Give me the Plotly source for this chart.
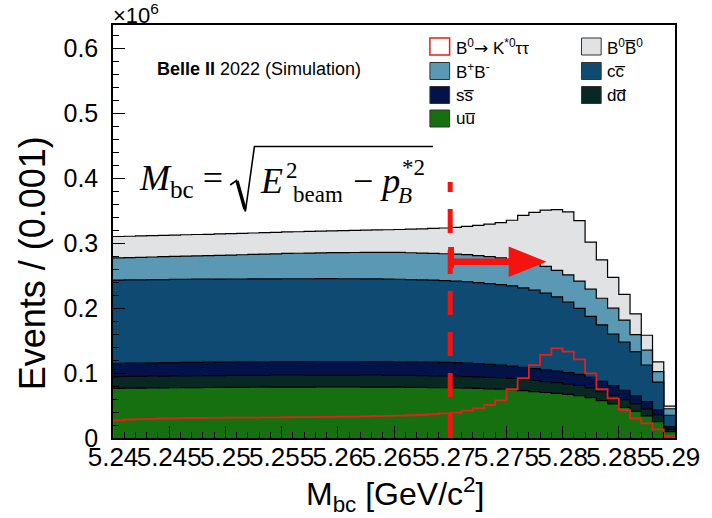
import numpy as np
import plotly.graph_objects as go

# ---- binning: M_bc from 5.24 to 5.29 GeV/c^2 in 1 MeV/c^2 bins ----
MBC_MIN = 5.24
BIN_WIDTH = 0.001
N_BINS = 50
Y_SCALE = 1e6          # y axis is shown in units of 10^6 events
CUT = 5.27             # signal-region cut on M_bc

# ---- events per bin for each background component (stack order: bottom -> top) ----
uu = [76400, 76600, 76800, 76900, 77100, 77300, 77400, 77600, 77700, 77800,
      77900, 78000, 78100, 78200, 78300, 78300, 78400, 78400, 78500, 78500,
      78500, 78500, 78400, 78400, 78300, 78200, 78000, 77800, 77600, 77300,
      77000, 76600, 76200, 75700, 75100, 74400, 73000, 71500, 70000, 68800,
      67200, 65000, 62000, 57500, 52500, 47000, 41000, 34000, 25000, 9700]
dd = [18100, 18100, 18100, 18200, 18200, 18200, 18300, 18200, 18300, 18300,
      18300, 18300, 18300, 18300, 18300, 18400, 18300, 18400, 18300, 18300,
      18300, 18300, 18300, 18200, 18200, 18200, 18200, 18200, 18100, 18100,
      18000, 17900, 17800, 17700, 17600, 17400, 17200, 17000, 16800, 16500,
      16200, 15800, 15000, 13800, 13000, 12000, 11000, 10600, 10000, 3700]
ss = [20500, 20500, 20500, 20600, 20600, 20600, 20600, 20700, 20700, 20700,
      20700, 20700, 20800, 20800, 20800, 20800, 20800, 20800, 20900, 20900,
      20900, 20900, 20900, 20900, 20900, 20800, 20800, 20900, 21000, 20900,
      21000, 20600, 20300, 19900, 19500, 19000, 18600, 18200, 17900, 17600,
      17300, 17000, 16500, 15800, 15200, 14500, 13000, 11500, 8500, 4000]
cc = [128000, 128000, 127900, 127900, 127900, 127800, 127800, 127800, 127700, 127700,
      127700, 127600, 127600, 127600, 127500, 127500, 127500, 127400, 127400, 127400,
      127300, 127300, 127200, 127200, 127100, 127000, 126800, 126500, 126200, 125900,
      125500, 125400, 124700, 124200, 123800, 123200, 122200, 120800, 118300, 114100,
      108300, 101700, 93500, 86900, 79000, 74000, 68000, 56000, 42500, 17600]
bpbm = [34000, 34300, 34700, 34900, 35200, 35600, 35800, 36000, 36300, 36600,
        36900, 37300, 37700, 38100, 38500, 38900, 39200, 39500, 39800, 40000,
        40200, 40400, 40700, 40900, 41100, 41300, 41200, 41100, 41100, 41300,
        41500, 41500, 41500, 41500, 41000, 41000, 41500, 41500, 41000, 41000,
        42000, 42000, 42000, 41000, 40000, 34000, 26000, 23000, 16000, 10000]
b0b0 = [33000, 32900, 32900, 32700, 32800, 32600, 32800, 32800, 32700, 32900,
        32800, 33000, 32900, 33000, 33000, 33100, 33100, 33300, 33400, 33600,
        33900, 34000, 34300, 34500, 34800, 35300, 36300, 37300, 38400, 39600,
        41000, 43500, 46700, 50000, 54200, 60000, 70000, 78000, 86500, 93200,
        97000, 93000, 72500, 59000, 47300, 39500, 32000, 23000, 15000, 4000]

# ---- signal B0 -> K*0 tau tau (scaled), drawn as an outline ----
signal = [27000, 28500, 29000, 29500, 30000, 30200, 30500, 30700, 31000, 31000,
          31200, 31300, 31500, 31600, 31800, 31900, 32000, 32200, 32400, 32600,
          32800, 33000, 33300, 33600, 34000, 34500, 35000, 35800, 36600, 37800,
          39000, 42000, 45700, 50800, 58000, 75000, 92000, 112000, 128000, 138000,
          133000, 121000, 99500, 75000, 61000, 43000, 30000, 22600, 13400, 3000]

# x-axis tick labels every 5 MeV/c^2
x_ticks = [5.24, 5.245, 5.25, 5.255, 5.26, 5.265, 5.27, 5.275, 5.28, 5.285, 5.29]
x_tick_labels = ["5.24", "5.245", "5.25", "5.255", "5.26", "5.265",
                 "5.27", "5.275", "5.28", "5.285", "5.29"]

C_UU = "#17700f"
C_DD = "#082824"
C_SS = "#03134a"
C_CC = "#0e4a72"
C_BPBM = "#5a98b4"
C_B0B0 = "#e1e2e4"
C_SIG = "#e3201b"
C_CUT = "#f5120f"

layers = [
    ("u\u016b", uu, C_UU),
    ("dd\u0305", dd, C_DD),
    ("ss\u0305", ss, C_SS),
    ("cc\u0305", cc, C_CC),
    ("B+B-", bpbm, C_BPBM),
    ("B0B0bar", b0b0, C_B0B0),
]

edges = MBC_MIN + BIN_WIDTH * np.arange(N_BINS + 1)

fig = go.Figure()

# stacked step histograms, filled between consecutive cumulative outlines
cum = np.zeros(N_BINS)
for i, (name, vals, col) in enumerate(layers):
    cum = cum + np.asarray(vals, dtype=float)
    top = cum / Y_SCALE
    fig.add_trace(go.Scatter(
        x=edges, y=np.append(top, top[-1]),
        mode="lines", line=dict(shape="hv", color="black", width=1.2),
        fill="tozeroy" if i == 0 else "tonexty", fillcolor=col,
        name=name, showlegend=False, hoverinfo="skip"))

# signal outline (closed down to zero at both ends)
sig = np.asarray(signal, dtype=float) / Y_SCALE
sx = np.concatenate([[edges[0]], edges, [edges[-1]]])
sy = np.concatenate([[0.0], sig, [sig[-1], 0.0]])
fig.add_trace(go.Scatter(
    x=sx, y=sy, mode="lines", line=dict(shape="hv", color=C_SIG, width=1.8),
    name="signal", showlegend=False, hoverinfo="skip"))

# ---- pixel helpers for decorations placed on the page ----
PL, PR, PT, PB = 113, 684, 25, 438
def px(x):
    return (x - PL) / (PR - PL)
def py(y):
    return (PB - y) / (PB - PT)

Y_TOP = (PB - PT) / 650.0   # axis maximum in units of 10^6

shapes = []
# dashed cut line at M_bc = 5.27
shapes.append(dict(type="line", xref="x", yref="y", x0=CUT, x1=CUT, y0=0, y1=0.394,
                   line=dict(color=C_CUT, width=5, dash="24px,17px")))
# arrow marking the signal region M_bc > 5.27
shapes.append(dict(type="rect", xref="paper", yref="paper",
                   x0=px(453.5), x1=px(459.5), y0=py(268), y1=py(247),
                   fillcolor=C_CUT, line=dict(width=0)))
shapes.append(dict(type="rect", xref="paper", yref="paper",
                   x0=px(459), x1=px(520), y0=py(265), y1=py(258.4),
                   fillcolor=C_CUT, line=dict(width=0)))
shapes.append(dict(type="path", xref="paper", yref="paper",
                   path="M {:.5f},{:.5f} L {:.5f},{:.5f} L {:.5f},{:.5f} Z".format(
                       px(515), py(246.5), px(553.5), py(261.7), px(515), py(277)),
                   fillcolor=C_CUT, line=dict(width=0)))

# square-root sign: thin hook, heavy down-stroke, thin up-stroke and vinculum
def pts(seq):
    return " L ".join("{:.5f},{:.5f}".format(px(a), py(b)) for a, b in seq)
shapes.append(dict(type="path", xref="paper", yref="paper",
                   path="M " + pts([(232, 185), (238.5, 180.5), (247.5, 211.5),
                                    (256.7, 146.5), (438, 146.5)]),
                   line=dict(color="black", width=1.6)))
shapes.append(dict(type="line", xref="paper", yref="paper",
                   x0=px(239), y0=py(181), x1=px(247), y1=py(209),
                   line=dict(color="black", width=3.4)))

annotations = []
def note(text, x, y, size, family="Liberation Sans", xanchor="left", yanchor="middle", **kw):
    annotations.append(dict(text=text, x=px(x), y=py(y), xref="paper", yref="paper",
                            xanchor=xanchor, yanchor=yanchor, showarrow=False,
                            font=dict(family=family, size=size, color="black"), **kw))

SERIF = "Liberation Serif"
# M_bc = sqrt(E_beam^2 - p_B^*2)
note("<i>M</i><sub>bc</sub> = ", 137, 181, 36, SERIF)
note("<i>E</i>", 260, 181, 36, SERIF)
note("2", 287, 170, 23, SERIF)
note("beam", 294, 194, 23, SERIF)
note("\u2212 <i>p</i>", 355, 181, 36, SERIF)
note("<i>B</i>", 401, 195, 23, SERIF)
note("*2", 405, 167, 23, SERIF)

note("<b>Belle II</b> 2022 (Simulation)", 156, 69, 18)
note("\u00d710<sup>6</sup>", 111, 14, 22)

# axis titles
note("Events / (0.001)", 31, 263, 36, xanchor="center", textangle=-90)
note("M<sub>bc</sub> [GeV/c<sup>2</sup>]", 400, 494, 32, xanchor="center")

# legend (two columns)
legend_entries = [
    ("B<sup>0</sup><span style='font-family:DejaVu Sans'>\u2192</span> K<sup>*0</sup>\u03c4\u03c4", None, 0, 0),
    ("B<sup>0</sup>B\u0305<sup>0</sup>", C_B0B0, 1, 0),
    ("B<sup>+</sup>B<sup>-</sup>", C_BPBM, 0, 1),
    ("cc\u0305", C_CC, 1, 1),
    ("ss\u0305", C_SS, 0, 2),
    ("dd\u0305", C_DD, 1, 2),
    ("uu\u0305", C_UU, 0, 3),
]
COL_X = [435, 589]
ROW_Y = [46.5, 71, 95, 118.5]
for text, col, c, r in legend_entries:
    x0 = COL_X[c]
    yc = ROW_Y[r]
    if col is None:
        shapes.append(dict(type="rect", xref="paper", yref="paper",
                           x0=px(x0), x1=px(x0 + 20), y0=py(yc + 8.5), y1=py(yc - 8.5),
                           fillcolor="white", line=dict(color=C_SIG, width=1.5)))
    else:
        shapes.append(dict(type="rect", xref="paper", yref="paper",
                           x0=px(x0), x1=px(x0 + 20), y0=py(yc + 8.5), y1=py(yc - 8.5),
                           fillcolor=col, line=dict(color="#333333", width=1)))
    note(text, x0 + 24, yc, 17)

fig.update_layout(
    width=712, height=518,
    margin=dict(l=PL, r=712 - PR, t=PT, b=518 - PB),
    paper_bgcolor="white", plot_bgcolor="white",
    showlegend=False,
    shapes=shapes, annotations=annotations,
    font=dict(family="Liberation Sans", color="black"),
)
fig.update_xaxes(
    range=[MBC_MIN, MBC_MIN + N_BINS * BIN_WIDTH],
    tickmode="array", tickvals=x_ticks, ticktext=x_tick_labels, tickangle=0,
    ticks="inside", ticklen=12, tickcolor="black", tickwidth=1,
    minor=dict(tick0=MBC_MIN, dtick=0.001, ticks="inside", ticklen=6, tickcolor="black"),
    showline=True, mirror=True, linecolor="black", linewidth=1.5,
    showgrid=False, zeroline=False,
    tickfont=dict(family="Liberation Sans", size=26, color="black"),
    ticklabelstandoff=-5,
)
fig.update_yaxes(
    range=[0, Y_TOP],
    tick0=0, dtick=0.1, tickformat="~g",
    ticks="inside", ticklen=12, tickcolor="black", tickwidth=1,
    minor=dict(dtick=0.02, ticks="inside", ticklen=6, tickcolor="black"),
    showline=True, mirror=True, linecolor="black", linewidth=1.5,
    showgrid=False, zeroline=False,
    tickfont=dict(family="Liberation Sans", size=25, color="black"),
    ticklabelstandoff=8,
)

fig.write_html("out.html")
